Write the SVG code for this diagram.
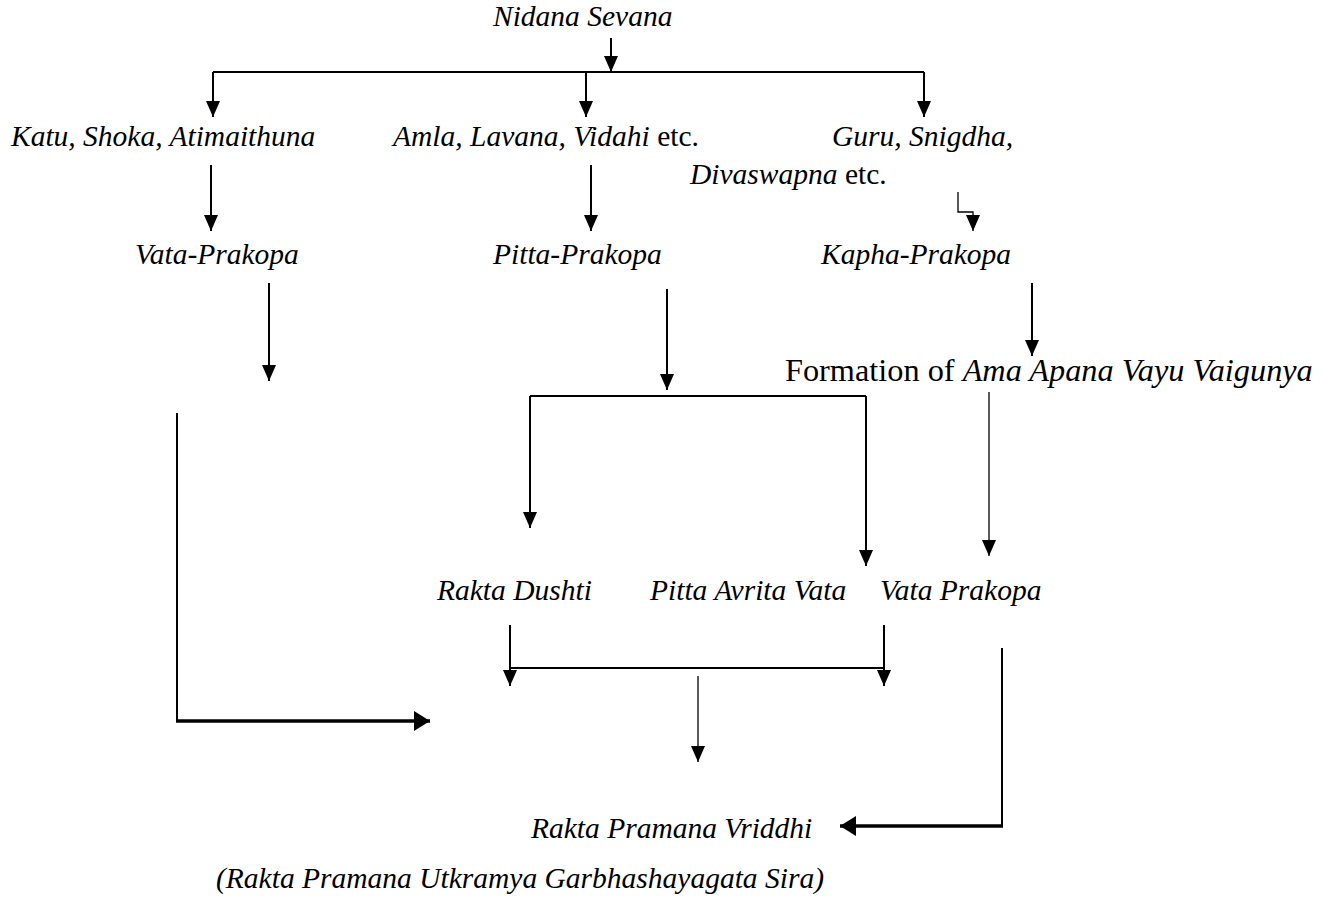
<svg xmlns="http://www.w3.org/2000/svg" width="1332" height="905" viewBox="0 0 1332 905">
<style>
text{font-family:"Liberation Serif","Times New Roman",serif;fill:#000;font-size:29.5px}
.i{font-style:italic}
.n{font-style:normal}
.c{fill:none;stroke:#000;stroke-width:2}
.t{fill:none;stroke:#000;stroke-width:1.3}
.k{fill:none;stroke:#000;stroke-width:3.5}
</style>
<defs>
<marker id="ah" markerUnits="userSpaceOnUse" markerWidth="18" markerHeight="16" refX="16" refY="7" orient="auto" viewBox="0 0 18 16"><path d="M0,0 L16,7 L0,14 z" fill="#000"/></marker>
<marker id="ahk" markerUnits="userSpaceOnUse" markerWidth="20" markerHeight="22" refX="16" refY="10" orient="auto" viewBox="0 0 20 22"><path d="M0,0 L16,10 L0,20 z" fill="#000"/></marker>
</defs>
<g id="connectors">
<path class="c" d="M611,38 V72" marker-end="url(#ah)"/>
<path class="c" d="M213,72 H924"/>
<path class="c" d="M213,72 V117" marker-end="url(#ah)"/>
<path class="c" d="M586,72 V117" marker-end="url(#ah)"/>
<path class="c" d="M924,72 V117" marker-end="url(#ah)"/>
<path class="c" d="M211,165 V231" marker-end="url(#ah)"/>
<path class="c" d="M591,165 V231" marker-end="url(#ah)"/>
<path class="t" d="M958,192 V212 H973 V231" marker-end="url(#ah)"/>
<path class="c" d="M269,283 V381" marker-end="url(#ah)"/>
<path class="c" d="M667,289 V390" marker-end="url(#ah)"/>
<path class="c" d="M1032,283 V356" marker-end="url(#ah)"/>
<path class="c" d="M530,396 V528" marker-end="url(#ah)"/>
<path class="c" d="M530,396 H866"/>
<path class="c" d="M866,396 V566" marker-end="url(#ah)"/>
<path class="t" d="M989,392 V556" marker-end="url(#ah)"/>
<path class="c" d="M177,413 V721"/>
<path class="k" d="M176,721 H430" marker-end="url(#ahk)"/>
<path class="c" d="M510,625 V686" marker-end="url(#ah)"/>
<path class="c" d="M884,625 V686" marker-end="url(#ah)"/>
<path class="c" d="M510,668 H884"/>
<path class="t" d="M698,676 V762" marker-end="url(#ah)"/>
<path class="c" d="M1002,648 V826"/>
<path class="k" d="M1003,826 H840" marker-end="url(#ahk)"/>
</g>
<g id="n1"><text class="i" x="493" y="26">Nidana Sevana</text></g>
<g id="n2"><text class="i" x="11" y="146">Katu, Shoka, Atimaithuna</text></g>
<g id="n3"><text class="i" x="393" y="146">Amla, Lavana, Vidahi<tspan class="n"> etc.</tspan></text></g>
<g id="n4"><text class="i" x="832" y="146">Guru, Snigdha,</text><text class="i" x="690" y="184">Divaswapna<tspan class="n"> etc.</tspan></text></g>
<g id="n5"><text class="i" x="135" y="264">Vata-Prakopa</text></g>
<g id="n6"><text class="i" x="493" y="264">Pitta-Prakopa</text></g>
<g id="n7"><text class="i" x="821" y="264">Kapha-Prakopa</text></g>
<g id="n8"><text class="n" x="785" y="381" style="font-size:32.3px">Formation of <tspan class="i">Ama Apana Vayu Vaigunya</tspan></text></g>
<g id="n9"><text class="i" x="437" y="600">Rakta Dushti</text></g>
<g id="n10"><text class="i" x="650" y="600">Pitta Avrita Vata</text></g>
<g id="n11"><text class="i" x="880" y="600">Vata Prakopa</text></g>
<g id="n12"><text class="i" x="531" y="838">Rakta Pramana Vriddhi</text></g>
<g id="n13"><text class="i" x="216" y="888">(Rakta Pramana Utkramya Garbhashayagata Sira)</text></g>
</svg>
